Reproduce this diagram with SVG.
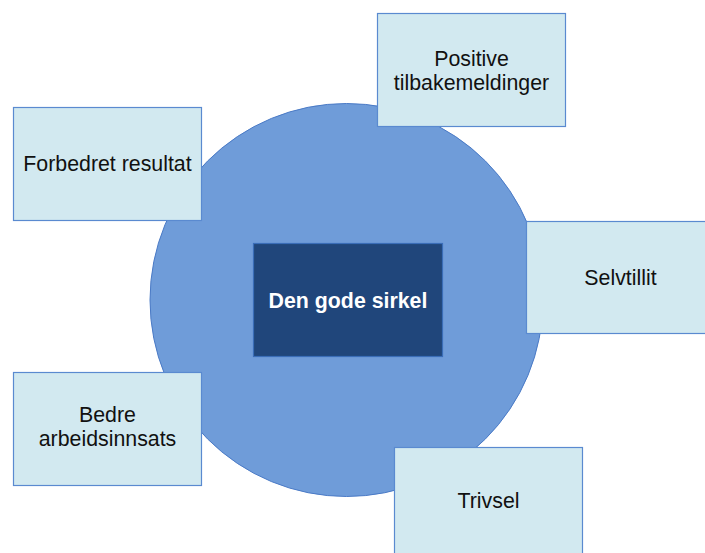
<svg xmlns="http://www.w3.org/2000/svg" width="705" height="553" viewBox="0 0 705 553">
<style>
.box{fill:#D2E9F0;stroke:#5A8AD0;stroke-width:1.2}
.lbl{font-family:"Liberation Sans",Arial,sans-serif;font-size:21.33px;fill:#111;text-anchor:middle}
.ctr{font-family:"Liberation Sans",Arial,sans-serif;font-size:21.33px;font-weight:bold;fill:#fff;text-anchor:middle}
</style>
<rect width="705" height="553" fill="#fff"/>
<g id="circle">
<circle cx="346.5" cy="300" r="196.5" fill="#6F9CD9" stroke="#4A7AC6" stroke-width="1"/>
</g>
<g id="center">
<rect x="253.5" y="243.5" width="189" height="113" fill="#20467B" stroke="#3A6DB8" stroke-width="1.2"/>
<text class="ctr" x="348" y="307.5">Den gode sirkel</text>
</g>
<g id="positive">
<rect class="box" x="377.5" y="13.5" width="188" height="113"/>
<text class="lbl" x="471.5" y="65.5">Positive</text>
<text class="lbl" x="471.5" y="89.5">tilbakemeldinger</text>
</g>
<g id="selvtillit">
<rect class="box" x="526.5" y="221.5" width="188" height="112"/>
<text class="lbl" x="620.5" y="285">Selvtillit</text>
</g>
<g id="trivsel">
<rect class="box" x="394.5" y="447.5" width="188" height="113"/>
<text class="lbl" x="488.5" y="508">Trivsel</text>
</g>
<g id="bedre">
<rect class="box" x="13.5" y="372.5" width="188" height="113"/>
<text class="lbl" x="107.5" y="422">Bedre</text>
<text class="lbl" x="107.5" y="446">arbeidsinnsats</text>
</g>
<g id="forbedret">
<rect class="box" x="13.5" y="107.5" width="188" height="113"/>
<text class="lbl" x="107.5" y="171">Forbedret resultat</text>
</g>
</svg>
